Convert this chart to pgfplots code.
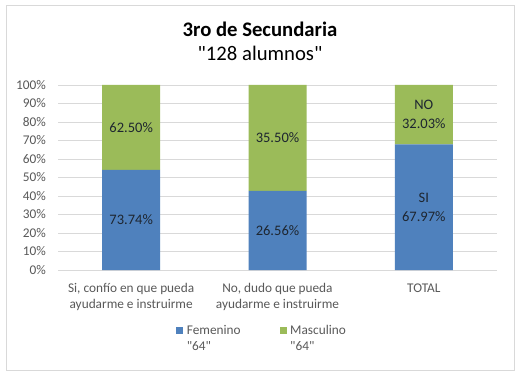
\documentclass[border=0pt]{standalone}
\usepackage{fontspec}
\setmainfont{Carlito}[Ligatures=TeXOff]
\usepackage{pgfplots}
\pgfplotsset{compat=1.18}
\definecolor{barblue}{HTML}{4F81BD}
\definecolor{bargreen}{HTML}{9BBB59}
\definecolor{gridgray}{HTML}{D9D9D9}
\definecolor{ticktext}{HTML}{595959}
\definecolor{labeltext}{HTML}{1E2630}
\pgfplotsset{
  myframe/.style={at={(58pt,105pt)}, anchor=south west,
    scale only axis, width=439pt, height=185pt,
    xmin=-0.5, xmax=2.5, ymin=0, ymax=100},
}
\begin{document}
\begin{tikzpicture}
\useasboundingbox (0,0) rectangle (521pt,375pt);
\fill[white] (0,0) rectangle (521pt,375pt);
\draw[gridgray, line width=0.8pt] (6pt,5pt) rectangle (514pt,370pt);
\node[font=\fontsize{20.7}{24}\selectfont\bfseries] at (260pt,346pt) {3ro de Secundaria};
\node[font=\fontsize{20.7}{24}\selectfont] at (260pt,322pt) {"128 alumnos"};
\begin{axis}[
  myframe,
  ybar stacked, bar width=58pt,
  xtick={0,1,2},
  xticklabels={{Si, confío en que pueda\\ayudarme e instruirme},{No, dudo que pueda\\ayudarme e instruirme},TOTAL},
  ytick={0,10,...,100},
  yticklabels={0\%,10\%,20\%,30\%,40\%,50\%,60\%,70\%,80\%,90\%,100\%},
  axis line style={draw=none},
  major tick length=0pt,
  ymajorgrids, grid style={gridgray, line width=0.8pt},
  tick label style={font=\fontsize{13.3}{16}\selectfont, text=ticktext},
  yticklabel style={xshift=-8.5pt},
  xticklabel style={align=center, yshift=-10pt},
  legend style={at={(0.465,-0.268)}, anchor=north, draw=none, fill=none, legend columns=2,
    font=\fontsize{13.3}{16}\selectfont, text=ticktext,
    cells={anchor=base west},
    /tikz/every even column/.append style={column sep=37pt}},
  legend image code/.code={\fill[#1] (0pt,0.5pt) rectangle (7pt,7.5pt);},
]
\addplot[fill=barblue, draw=none] coordinates {(0,54.12) (1,42.80) (2,67.97)};
\addplot[fill=bargreen, draw=none] coordinates {(0,45.88) (1,57.20) (2,32.03)};
\legend{{\hspace{1.5pt}\begin{tabular}[t]{@{}l@{}}Femenino\\"64"\end{tabular}},{\hspace{1.5pt}\begin{tabular}[t]{@{}l@{}}Masculino\\"64"\end{tabular}}}
\end{axis}
\begin{axis}[
  myframe, hide axis,
  nodes near coords, point meta=explicit symbolic,
  every node near coord/.append style={anchor=center, font=\fontsize{14.5}{19}\selectfont, text=labeltext, align=center},
]
\addplot[draw=none, mark=none] coordinates {(0,27.06) [73.74\%] (1,21.40) [26.56\%] (2,33.985) [{SI\\67.97\%}]};
\addplot[draw=none, mark=none] coordinates {(0,77.06) [62.50\%] (1,71.40) [35.50\%] (2,83.985) [{NO\\32.03\%}]};
\end{axis}
\end{tikzpicture}
\end{document}
